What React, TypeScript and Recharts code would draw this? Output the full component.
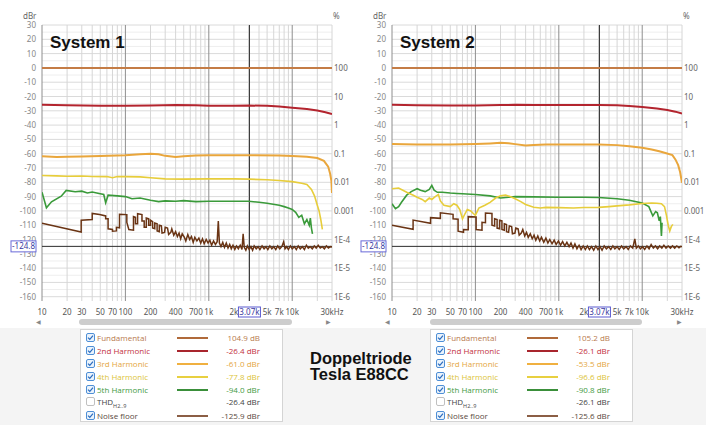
import React from "react";
import { LineChart, Line, XAxis, YAxis, ReferenceLine } from "recharts";

// axis ticks and grid
const freqTicks = [10, 20, 30, 50, 70, 100, 200, 400, 700, 1000, 2000, 5000, 7000, 10000, 30000, 3070];
const gridFreqs = [
  10, 20, 30, 40, 50, 60, 70, 80, 90, 100, 200, 300, 400, 500, 600, 700, 800, 900,
  1000, 2000, 3000, 4000, 5000, 6000, 7000, 8000, 9000, 10000, 20000, 30000,
];
const decadeFreqs = [10, 100, 1000, 10000];
const dbTicks = [30, 20, 10, 0, -10, -20, -30, -40, -50, -60, -70, -80, -90, -100, -110, -120, -130, -140, -150, -160];
const halfDbLines = [25, 15, 5, -5, -15, -25, -35, -45, -55, -65, -75, -85, -95, -105, -115, -125, -135, -145, -155];
const pctTicks = [0, -20, -40, -60, -80, -100, -120, -140, -160];
const pctLabels = ["100", "10", "1", "0.1", "0.01", "0.001", "1E-4", "1E-5", "1E-6"];
const cursorFreq = 3070;
const cursorDb = -124.8;

// System 1  [Hz, dBr]
const s1Fund = [[10, 0], [30000, 0]];
const s1H2 = [[10, -25.8], [20, -26.2], [50, -26.4], [100, -26.4], [200, -26.3], [400, -26.0], [700, -26.2], [1000, -26.4], [2000, -26.4], [3000, -26.3], [5000, -26.5], [7000, -27.0], [10000, -27.8], [15000, -28.8], [20000, -29.8], [25000, -31.0], [30000, -32.2]];
const s1H3 = [[10, -61.7], [15, -62.3], [20, -62.2], [30, -62.0], [50, -61.6], [100, -61.0], [150, -60.3], [200, -60.0], [250, -60.4], [300, -61.5], [400, -62.3], [500, -61.8], [700, -61.2], [1000, -61.0], [3000, -61.0], [7000, -61.3], [10000, -61.6], [15000, -62.1], [20000, -63.0], [24000, -65.0], [27000, -69.0], [28500, -74.0], [29500, -79.0], [30000, -87.5]];
const s1H4 = [[10, -75.2], [15, -75.5], [20, -75.8], [30, -75.6], [40, -75.9], [60, -76.0], [70, -76.8], [80, -76.0], [100, -76.0], [150, -76.2], [200, -76.8], [300, -77.6], [500, -77.8], [1000, -77.6], [2000, -77.6], [3000, -77.8], [5000, -78.2], [7000, -78.7], [10000, -79.5], [13000, -80.6], [15000, -81.5], [17000, -85], [18500, -89.5], [20000, -96], [21000, -100], [22000, -106], [23000, -113]];
const s1H5 = [[10, -86.9], [11.3, -97.8], [13, -93.6], [17, -89.7], [19.5, -85.7], [25, -86.6], [30, -86.2], [35, -87.5], [40, -86.8], [50, -88], [55, -88.5], [58, -94.3], [62, -89], [80, -89.5], [100, -90], [120, -91.5], [150, -91], [200, -92.5], [250, -93.5], [300, -93], [400, -93.2], [500, -92.8], [700, -93.5], [1000, -93.2], [2000, -93.3], [3000, -93.2], [4000, -94], [5000, -94.6], [7000, -96], [8000, -97], [9000, -98], [10000, -99], [11000, -101], [12000, -104.5], [13000, -103], [14000, -109], [15000, -106], [16000, -110], [16500, -105], [17000, -112], [17500, -116]];
const s1Noise = [[10, -108.7], [29.5, -114.8], [29.5, -106.5], [40, -106], [40, -101.8], [49, -102.5], [58, -103.5], [58, -105.5], [62, -105.5], [62, -112.5], [70, -113], [70, -114.2], [78, -114], [78, -111.5], [85, -111.8], [85, -102.3], [104, -102.6], [104, -108], [110, -113], [125, -113.5], [125, -104], [132, -104.5], [132, -109], [140, -109], [140, -102], [158, -102.6], [158, -107], [168, -107], [168, -111.5], [178, -111.5], [178, -105], [190, -105.5], [190, -110], [200, -110], [200, -106.5], [212, -107.5], [212, -112], [225, -112.5], [225, -108.5], [240, -109], [240, -114], [255, -114.5], [255, -110], [270, -110.5], [275, -115.5], [295, -115], [300, -111.5], [320, -112], [330, -116.5], [350, -115], [360, -112.5], [380, -117], [400, -114.5], [420, -118], [440, -115.5], [460, -119.5], [480, -116], [510, -118.5], [530, -121], [560, -116.5], [590, -120], [620, -118], [650, -122], [680, -118.5], [720, -121], [760, -119], [800, -122.5], [840, -119.5], [880, -123], [930, -120], [980, -122.5], [1030, -120.5], [1080, -124], [1140, -121], [1200, -123.5], [1260, -121.5], [1300, -107], [1340, -122.5], [1400, -125], [1470, -122], [1540, -125.5], [1620, -122.5], [1700, -126], [1780, -123.5], [1860, -126.5], [1950, -124], [2050, -127], [2150, -124.5], [2260, -126.5], [2380, -124], [2500, -127], [2580, -116], [2660, -125.5], [2780, -127.5], [2900, -124.5], [3050, -127], [3200, -125], [3350, -127.5], [3500, -124.5], [3700, -126.5], [3900, -125], [4100, -127], [4350, -124.5], [4600, -126.5], [4850, -125], [5100, -127], [5400, -124.5], [5700, -126.5], [6000, -125], [6350, -127], [6700, -124.5], [7100, -126.5], [7500, -125], [7900, -121.5], [8200, -126.5], [8600, -125], [9000, -127], [9500, -124.5], [10000, -126.5], [10600, -125], [11200, -127], [11800, -124.5], [12500, -126.5], [13200, -125], [14000, -127], [14800, -124], [15600, -126], [16500, -125], [17400, -126.5], [18400, -124.5], [19400, -126], [20500, -124], [21700, -126], [23000, -125], [24300, -126.5], [25700, -124.5], [27200, -126], [28600, -125], [30000, -125.2]];

// System 2  [Hz, dBr]
const s2Fund = [[10, 0], [30000, 0]];
const s2H2 = [[10, -25.8], [20, -26.2], [50, -26.3], [100, -26.3], [200, -26.0], [300, -25.8], [500, -25.9], [1000, -26.0], [2000, -25.9], [3000, -25.9], [5000, -26.2], [7000, -26.7], [10000, -27.4], [15000, -28.4], [20000, -29.4], [25000, -30.6], [30000, -31.9]];
const s2H3 = [[10, -53.3], [20, -53.6], [50, -53.6], [100, -53.2], [150, -52.8], [200, -52.4], [250, -52.7], [300, -53.3], [400, -54.2], [500, -54.0], [700, -53.6], [1000, -53.5], [3000, -53.5], [5000, -54.0], [7000, -54.8], [10000, -55.8], [13000, -57.0], [16000, -58.3], [19000, -59.5], [23000, -61.0], [25000, -64.0], [27000, -68.0], [28500, -73.0], [30000, -80.3]];
const s2H4 = [[10, -84.5], [12, -84], [15, -87], [18, -89], [20, -90.4], [23, -92], [25, -93.5], [28, -91], [30, -92], [33, -90], [36, -88.5], [38, -93], [42, -96], [50, -97], [55, -95], [60, -96], [65, -99], [70, -105.5], [75, -102], [80, -99], [88, -100], [95, -102], [100, -103], [110, -98], [130, -96], [150, -94], [175, -91], [200, -89.5], [230, -89], [260, -90], [300, -91.5], [350, -93.5], [400, -95.5], [500, -97.5], [600, -98], [700, -97.5], [1000, -97.7], [1500, -98], [2000, -97.6], [3000, -97.5], [4000, -97], [5000, -96.5], [7000, -95.8], [10000, -94.8], [13000, -94.5], [15000, -94.6], [17000, -95], [18500, -97], [19500, -103], [20500, -110], [21400, -114], [22300, -111], [23300, -109.4]];
const s2H5 = [[10, -95], [11, -98.5], [12, -97], [13, -94], [15, -89], [17, -86.5], [20, -84.5], [22, -85.5], [25, -86.5], [28, -85], [30, -82.2], [32, -85.5], [35, -87], [40, -87], [50, -87.5], [60, -87.8], [70, -88], [100, -88.5], [150, -89.5], [200, -91], [250, -90.5], [300, -90], [500, -90.2], [1000, -90.5], [2000, -90.5], [3000, -90.6], [5000, -91.5], [7000, -92.5], [10000, -94.5], [12000, -97], [13400, -103.5], [14500, -100.5], [15200, -101.3], [16000, -107], [16500, -104], [17000, -117.6], [17300, -108.3]];
const s2Noise = [[10, -110], [17.9, -112.9], [17.9, -106.4], [29, -108.7], [29, -104.7], [38, -105.2], [38, -101.3], [54, -102.4], [54, -105.5], [62, -105.8], [62, -114.2], [72, -115], [72, -113], [82, -113.2], [82, -104], [102, -104.3], [102, -113], [120, -113.5], [120, -108], [132, -108.3], [132, -101.5], [158, -101.8], [158, -110], [170, -110.5], [170, -105.5], [182, -106], [182, -112], [195, -112.5], [195, -106.5], [208, -107], [208, -113], [222, -113.5], [222, -109], [236, -109.5], [236, -114.5], [250, -115], [255, -110.5], [272, -111], [278, -116], [298, -115.5], [305, -112], [325, -112.5], [335, -117], [355, -115.5], [370, -113], [390, -117.5], [410, -115], [430, -118.5], [455, -116], [480, -119.5], [505, -117], [530, -120.5], [560, -117.5], [590, -121], [620, -118.5], [660, -122], [700, -119], [740, -122.5], [780, -120], [830, -123], [880, -120.5], [930, -123.5], [990, -121], [1050, -124], [1110, -121.5], [1180, -124.5], [1250, -122], [1330, -125], [1400, -122.5], [1480, -126], [1560, -123], [1650, -126.5], [1750, -124], [1850, -127], [1960, -124.5], [2080, -127], [2200, -124.5], [2330, -127], [2470, -125], [2620, -127.5], [2780, -124.5], [2950, -127], [3120, -125], [3300, -127.5], [3500, -124.5], [3720, -126.5], [3950, -125], [4200, -127], [4450, -124.5], [4700, -126.5], [5000, -125], [5300, -127], [5650, -124.5], [6000, -126.5], [6400, -125], [6800, -127], [7200, -124.5], [7700, -126], [8150, -119.5], [8500, -126], [9000, -124.5], [9500, -126.5], [10100, -125], [10700, -127], [11400, -124.5], [12100, -126.5], [12800, -123.5], [13600, -126], [14400, -124.5], [15300, -126.5], [16200, -124.5], [17200, -126], [18200, -124], [19300, -126], [20500, -124.5], [21800, -126], [23100, -124.5], [24500, -126], [26000, -124.5], [27600, -125.8], [29000, -124.8], [30000, -125.2]];

// legend
const legendNames = ["Fundamental", "2nd Harmonic", "3rd Harmonic", "4th Harmonic", "5th Harmonic", "THD", "Noise floor"];
const s1LegendValues = ["104.9 dB", "-26.4 dBr", "-61.0 dBr", "-77.8 dBr", "-94.0 dBr", "-26.4 dBr", "-125.9 dBr"];
const s2LegendValues = ["105.2 dB", "-26.1 dBr", "-53.5 dBr", "-96.6 dBr", "-90.8 dBr", "-26.1 dBr", "-125.6 dBr"];
const legendChecked = [true, true, true, true, true, false, true];

const lineColors = ["#c47c45", "#b3242e", "#e9a63c", "#e7cd3b", "#3a9a3a", "", "#6a3414"];
const lineWidths = [2, 2, 2, 1.6, 1.6, 0, 1.5];
const textColors = ["#b87a4e", "#c23040", "#e4a63e", "#dcc43a", "#3f9a3f", "#444", "#5a4a40"];
const sampleColors = ["#b06a3a", "#a8252d", "#f0b040", "#e8d040", "#3a8f3a", "", "#8b5e45"];

const tickFont = "'Noto Sans', 'DejaVu Sans', sans-serif";

const toPts = (arr: number[][]) => arr.map(([f, db]) => ({ f, db }));

const fmtFreq = (v: number) => (v === 30000 ? "30kHz" : v >= 1000 ? `${v / 1000}k` : `${v}`);

const FreqTick = (props: any) => {
  const { x, y, payload } = props;
  const v = payload.value;
  if (v === cursorFreq) {
    return (
      <g>
        <rect x={x - 11} y={y + 6} width={22} height={10} fill="#fff" stroke="#5a5ad0" strokeWidth={1} />
        <text x={x} y={y + 14} textAnchor="middle" fontSize={8} fontFamily={tickFont} fill="#3a3aa0">3.07k</text>
      </g>
    );
  }
  return (
    <text x={x} y={y + 14} textAnchor="middle" fontSize={8} fontFamily={tickFont} fill="#555">{fmtFreq(v)}</text>
  );
};

const DbTick = (props: any) => {
  const { x, y, payload } = props;
  const v = payload.value;
  if (v === cursorDb) {
    return (
      <g>
        <rect x={x - 25} y={y - 5.5} width={25} height={11} fill="#fff" stroke="#6a6ad8" strokeWidth={1} />
        <text x={x - 12.5} y={y + 3} textAnchor="middle" fontSize={8} fontFamily={tickFont} fill="#3a3aa0">-124.8</text>
      </g>
    );
  }
  return (
    <text x={x} y={y + 3} textAnchor="end" fontSize={8} fontFamily={tickFont} fill="#888">{v}</text>
  );
};

const PctTick = (props: any) => {
  const { x, y, payload } = props;
  const i = pctTicks.indexOf(payload.value);
  return (
    <text x={x} y={y + 3} textAnchor="start" fontSize={8} fontFamily={tickFont} fill="#666">{pctLabels[i]}</text>
  );
};

type PanelProps = { left: number; width: number; rightW: number; title: string; series: number[][][] };

function Panel({ left, width, rightW, title, series }: PanelProps) {
  const order = [6, 4, 3, 2, 1, 0];
  return (
    <div style={{ position: "absolute", left, top: 0, width, height: 318 }}>
      <LineChart width={width} height={320} margin={{ top: 25, right: 0, bottom: 0, left: 0 }}>
        <XAxis
          type="number"
          dataKey="f"
          scale="log"
          domain={[10, 30000]}
          allowDataOverflow
          ticks={freqTicks}
          interval={0}
          tick={<FreqTick />}
          tickLine={false}
          axisLine={false}
          tickSize={0}
          tickMargin={0}
          height={19}
        />
        <YAxis
          yAxisId="l"
          type="number"
          domain={[-163, 30]}
          allowDataOverflow
          ticks={[...dbTicks, cursorDb]}
          interval={0}
          tick={<DbTick />}
          tickLine={false}
          axisLine={false}
          tickSize={0}
          tickMargin={6}
          width={42}
        />
        <YAxis
          yAxisId="r"
          orientation="right"
          type="number"
          domain={[-163, 30]}
          allowDataOverflow
          ticks={pctTicks}
          interval={0}
          tick={<PctTick />}
          tickLine={false}
          axisLine={false}
          tickSize={0}
          tickMargin={2}
          width={rightW}
        />
        {halfDbLines.map((v) => (
          <ReferenceLine key={`h${v}`} yAxisId="l" y={v} stroke="#eeeeee" strokeWidth={1} />
        ))}
        {dbTicks.map((v) => (
          <ReferenceLine key={`d${v}`} yAxisId="l" y={v} stroke="#dadada" strokeWidth={1} />
        ))}
        {gridFreqs.map((f) => (
          <ReferenceLine
            key={`v${f}`}
            yAxisId="l"
            x={f}
            stroke={decadeFreqs.includes(f) ? "#8e8e8e" : "#d6d6d6"}
            strokeWidth={1}
          />
        ))}
        <ReferenceLine yAxisId="l" x={cursorFreq} stroke="#2e2e2e" strokeWidth={1} />
        <ReferenceLine yAxisId="l" y={cursorDb} stroke="#2e2e2e" strokeWidth={1} />
        {order.map((i) => (
          <Line
            key={i}
            yAxisId="l"
            data={toPts(series[i])}
            dataKey="db"
            type="linear"
            stroke={lineColors[i]}
            strokeWidth={lineWidths[i]}
            dot={false}
            activeDot={false}
            isAnimationActive={false}
          />
        ))}
      </LineChart>
      <div style={{ position: "absolute", left: 23, top: 10, fontSize: 8, color: "#666", fontFamily: tickFont }}>dBr</div>
      <div style={{ position: "absolute", left: width - rightW + 1, top: 10, fontSize: 8, color: "#666", fontFamily: tickFont }}>%</div>
      <div
        style={{
          position: "absolute",
          left: 50,
          top: 34,
          fontSize: 17,
          lineHeight: "17px",
          fontWeight: "bold",
          fontFamily: "'Liberation Sans', Arial, sans-serif",
          color: "#111",
        }}
      >
        {title}
      </div>
    </div>
  );
}

function CheckBox({ on }: { on: boolean }) {
  return (
    <svg width={9} height={9} style={{ position: "absolute", left: 5, top: 2 }}>
      <rect x={0.5} y={0.5} width={8} height={8} rx={1.5} fill={on ? "#eaf3fc" : "#fff"} stroke={on ? "#4f8fd6" : "#c0c0c0"} />
      {on && <path d="M2 4.6 L3.8 6.4 L7 2.6" fill="none" stroke="#2a6cbf" strokeWidth={1.2} />}
    </svg>
  );
}

function LegendBox({ left, values }: { left: number; values: string[] }) {
  const rowTops = [1, 14, 27, 40, 53, 65, 79];
  return (
    <div
      style={{
        position: "absolute",
        left,
        top: 329,
        width: 203,
        height: 93,
        background: "#fff",
        border: "1px solid #d4d4d4",
        boxSizing: "border-box",
        fontFamily: "'Open Sans', 'Noto Sans', sans-serif",
        fontSize: 8,
      }}
    >
      {legendNames.map((name, i) => (
        <div key={name} style={{ position: "absolute", top: rowTops[i], left: 0, width: 201, height: 13 }}>
          <CheckBox on={legendChecked[i]} />
          <div style={{ position: "absolute", left: 16, top: 0, lineHeight: "13px", color: textColors[i], whiteSpace: "nowrap" }}>
            {name === "THD" ? (
              <span>
                THD<sub style={{ fontSize: 5.5 }}>H2..9</sub>
              </span>
            ) : (
              name
            )}
          </div>
          {sampleColors[i] && (
            <div style={{ position: "absolute", left: 96, top: 6, width: 31, height: 1.5, background: sampleColors[i] }} />
          )}
          <div style={{ position: "absolute", right: 22, top: 0, lineHeight: "13px", color: textColors[i], textAlign: "right" }}>
            {values[i]}
          </div>
        </div>
      ))}
    </div>
  );
}

function ScrollBar({ arrowL, arrowR, thumbL, thumbR }: { arrowL: number; arrowR: number; thumbL: number; thumbR: number }) {
  return (
    <>
      <div style={{ position: "absolute", left: arrowL - 2, top: 318, fontSize: 6, color: "#888", lineHeight: "8px" }}>◀</div>
      <div style={{ position: "absolute", left: arrowR - 2, top: 318, fontSize: 6, color: "#888", lineHeight: "8px" }}>▶</div>
      <div
        style={{
          position: "absolute",
          left: thumbL,
          top: 319,
          width: thumbR - thumbL,
          height: 6,
          borderRadius: 3,
          background: "#cdcdcd",
        }}
      />
    </>
  );
}

export default function App() {
  const sys1 = [s1Fund, s1H2, s1H3, s1H4, s1H5, [], s1Noise];
  const sys2 = [s2Fund, s2H2, s2H3, s2H4, s2H5, [], s2Noise];
  return (
    <div
      style={{
        position: "fixed",
        left: 0,
        top: 0,
        width: 706,
        height: 425,
        background: "#f4f4f4",
        overflow: "hidden",
      }}
    >
      <div style={{ position: "absolute", left: 0, top: 0, width: 706, height: 328, background: "#fff" }} />
      <Panel left={0} width={360} rightW={28} title="System 1" series={sys1} />
      <Panel left={350} width={356} rightW={24} title="System 2" series={sys2} />
      <ScrollBar arrowL={38} arrowR={328} thumbL={79} thumbR={292} />
      <ScrollBar arrowL={387} arrowR={679} thumbL={430} thumbR={642} />
      <LegendBox left={80} values={s1LegendValues} />
      <LegendBox left={430} values={s2LegendValues} />
      <div
        style={{
          position: "absolute",
          left: 310,
          top: 350,
          fontSize: 16.5,
          lineHeight: "16px",
          fontWeight: "bold",
          fontFamily: "'Liberation Sans', Arial, sans-serif",
          color: "#111",
        }}
      >
        Doppeltriode
        <br />
        Tesla E88CC
      </div>
    </div>
  );
}
